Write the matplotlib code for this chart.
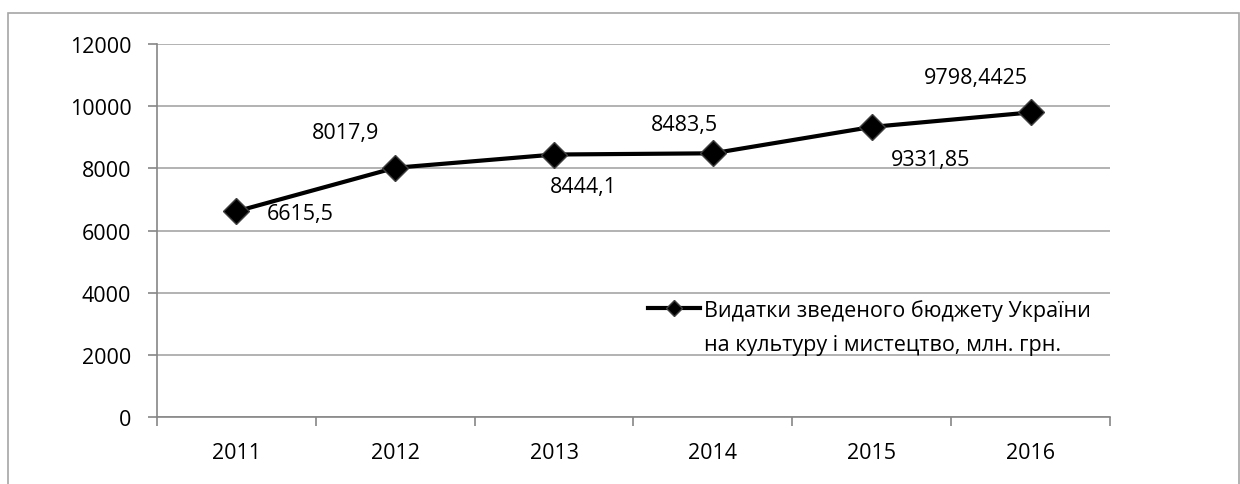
import matplotlib.pyplot as plt
from matplotlib.patches import Rectangle

years = ['2011', '2012', '2013', '2014', '2015', '2016']
values = [6615.5, 8017.9, 8444.1, 8483.5, 9331.85, 9798.4425]
labels = ['6615,5', '8017,9', '8444,1', '8483,5', '9331,85', '9798,4425']
series_line1 = 'Видатки зведеного бюджету України'
series_line2 = 'на культуру і мистецтво, млн. грн.'
y_ticks = [0, 2000, 4000, 6000, 8000, 10000, 12000]

plt.rcParams['font.family'] = ['Open Sans', 'DejaVu Sans']
FS = 15.5
W, H = 1240, 485

fig = plt.figure(figsize=(W / 100, H / 100), dpi=100)
fig.patches.append(Rectangle((8 / W, -0.1), (1239 - 8) / W, 1 + 0.1 - 14 / H,
                             transform=fig.transFigure, fill=False,
                             edgecolor='#a6a6a6', linewidth=1.2))
ax = fig.add_axes([157 / W, 1 - 418 / H, (1110 - 157) / W, (418 - 45) / H])

x = list(range(len(years)))
ax.plot(x, values, color='black', linewidth=3, marker='D', markersize=13,
        markerfacecolor='black', markeredgecolor='#404040', markeredgewidth=1,
        label=series_line1, zorder=3)

# label offsets in pixels (Excel-like placement)
offsets = [(64, -2), (-50, 35), (29, -32), (-28, 29), (59, -33), (-55, 35)]
for xi, v, lab, off in zip(x, values, labels, offsets):
    ax.annotate(lab, (xi, v), xytext=(off[0] * 0.72, off[1] * 0.72),
                textcoords='offset points', ha='center', va='center', fontsize=FS)

ax.set_xlim(-0.5, len(years) - 0.5)
ax.set_ylim(0, 12000)
ax.set_yticks(y_ticks)
ax.set_yticklabels([str(t) for t in y_ticks], fontsize=FS)
ax.set_xticks(x)
ax.set_xticklabels(years, fontsize=FS)
ax.set_xticks([i - 0.5 for i in range(len(years) + 1)], minor=True)
ax.tick_params(axis='x', which='major', length=0, pad=18)
ax.tick_params(axis='x', which='minor', length=6.5, color='#868686', width=1.2)
ax.tick_params(axis='y', length=6.5, color='#868686', width=1.2, pad=12)
ax.grid(axis='y', color='#a6a6a6', linewidth=1.2)
ax.set_axisbelow(True)
for side in ['top', 'right']:
    ax.spines[side].set_visible(False)
for side in ['left', 'bottom']:
    ax.spines[side].set_color('#868686')
    ax.spines[side].set_linewidth(1.2)

leg = ax.legend(loc='center left', bbox_to_anchor=(648 / W, 1 - 311 / H),
                bbox_transform=fig.transFigure, frameon=False, fontsize=FS,
                markerscale=0.6, handlelength=2.4, handletextpad=0.22,
                borderpad=0, borderaxespad=0)

fig.canvas.draw()
bb = leg.get_texts()[0].get_window_extent()
fig.text(bb.x0 / W, (bb.y0 - 35 + bb.height / 2) / H, series_line2,
         fontsize=FS, ha='left', va='center')

fig.savefig('out.png', dpi=100, facecolor='white')
